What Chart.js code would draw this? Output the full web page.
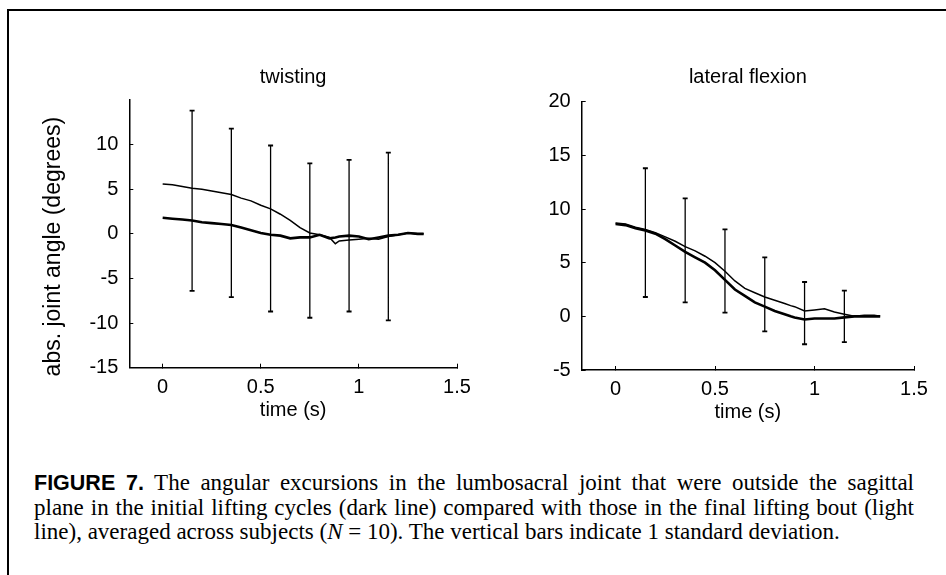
<!DOCTYPE html>
<html>
<head>
<meta charset="utf-8">
<script src="https://cdn.jsdelivr.net/npm/chart.js@4.4.1/dist/chart.umd.min.js"></script>
<style>
    body { margin: 0; background: #fff; }
    #page { position: relative; width: 946px; height: 575px; overflow: hidden; background: #fff; }
    #frame { position: absolute; left: 7px; top: 9px; right: -10px; bottom: -10px; border-top: 2px solid #000; border-left: 2px solid #000; }
    canvas { position: absolute; top: 0; }
    #leftChart { left: 0; }
    #rightChart { left: 470px; }
    #caption { position: absolute; left: 34px; top: 471px; width: 880px; font: 23px 'Liberation Serif', 'Times New Roman', serif; line-height: 24.5px; color: #000; }
    #caption .j { text-align: justify; text-align-last: justify; }
    #caption b { font-family: 'Liberation Sans', Arial, sans-serif; font-weight: bold; font-size: 21.5px; }
</style>
</head>
<body>
<div id="page">
    <div id="frame"></div>
    <canvas id="leftChart" width="490" height="440"></canvas>
    <canvas id="rightChart" width="476" height="440"></canvas>
    <div id="caption">
        <div class="j"><b>FIGURE 7.</b> The angular excursions in the lumbosacral joint that were outside the sagittal</div>
        <div class="j">plane in the initial lifting cycles (dark line) compared with those in the final lifting bout (light</div>
        <div>line), averaged across subjects (<i>N</i> = 10). The vertical bars indicate 1 standard deviation.</div>
    </div>
</div>
<script>
// sample times (s)
const time = [0, 0.05, 0.1, 0.15, 0.2, 0.25, 0.3, 0.35, 0.4, 0.45, 0.5, 0.55, 0.6, 0.65, 0.7,
    0.75, 0.8, 0.85, 0.88, 0.9, 0.95, 1.0, 1.05, 1.1, 1.15, 1.2, 1.25, 1.3, 1.33];

// twisting (degrees)
const twistLight = [5.6, 5.5, 5.3, 5.1, 5.0, 4.8, 4.6, 4.4, 4.0, 3.7, 3.2, 2.8, 2.2, 1.5, 0.7,
    0.1, -0.1, -0.4, -1.1, -0.8, -0.7, -0.6, -0.5, -0.6, -0.3, -0.1, 0.1, 0.0, 0.0];
const twistDark = [1.8, 1.7, 1.6, 1.5, 1.3, 1.2, 1.1, 1.0, 0.7, 0.4, 0.1, -0.1, -0.2, -0.5, -0.4,
    -0.4, -0.1, -0.5, -0.4, -0.3, -0.2, -0.3, -0.6, -0.4, -0.2, -0.1, 0.1, 0.0, 0.0];

// lateral flexion (degrees)
const flexLight = [8.7, 8.6, 8.3, 8.1, 7.8, 7.4, 7.0, 6.5, 6.1, 5.6, 5.0, 4.2, 3.3, 2.6, 2.2,
    1.8, 1.5, 1.2, 1.0, 0.9, 0.5, 0.6, 0.7, 0.4, 0.2, 0.0, 0.1, 0.1, 0.0];
const flexDark = [8.6, 8.5, 8.2, 8.0, 7.7, 7.2, 6.6, 6.0, 5.5, 5.0, 4.3, 3.4, 2.5, 1.9, 1.3,
    0.9, 0.5, 0.2, 0.0, -0.1, -0.3, -0.2, -0.2, -0.2, -0.1, 0.0, 0.0, 0.0, 0.0];

// standard deviation bars
const errTime = [0.15, 0.35, 0.55, 0.75, 0.95, 1.15];
const twistLow = [-6.4, -7.1, -8.7, -9.4, -8.7, -9.7];
const twistHigh = [13.8, 11.8, 9.9, 7.9, 8.3, 9.1];
const flexLow = [1.8, 1.3, 0.35, -1.4, -2.6, -2.4];
const flexHigh = [13.8, 11.0, 8.1, 5.5, 3.2, 2.4];

// tick labels
const xTicks = [0, 0.5, 1, 1.5];
const twistTicks = [-15, -10, -5, 0, 5, 10];
const flexTicks = [-5, 0, 5, 10, 15, 20];

Chart.defaults.font.family = "'Liberation Sans', Arial, Helvetica, sans-serif";
Chart.defaults.color = '#000';

function toPoints(xs, ys) {
    return xs.map((x, i) => ({ x: x, y: ys[i] }));
}

function errPoints(xs, lo, hi) {
    const pts = [];
    xs.forEach((x, i) => {
        pts.push({ x: x, y: lo[i] }, { x: x, y: hi[i] }, { x: x, y: null });
    });
    return pts;
}

function makeChart(id, cfg) {
    const ctx = document.getElementById(id).getContext('2d');
    return new Chart(ctx, {
        type: 'line',
        data: {
            datasets: [
                {
                    label: 'final (light)',
                    data: toPoints(time, cfg.light),
                    borderColor: '#000',
                    borderWidth: 1.5,
                    pointRadius: 0
                },
                {
                    label: 'initial (dark)',
                    data: toPoints(time, cfg.dark),
                    borderColor: '#000',
                    borderWidth: 2.6,
                    pointRadius: 0
                },
                {
                    label: 'SD',
                    data: errPoints(errTime, cfg.low, cfg.high),
                    borderColor: '#000',
                    borderWidth: 1.3,
                    spanGaps: false,
                    pointStyle: 'line',
                    pointRadius: 2.5,
                    pointBorderWidth: 1.8,
                    pointBorderColor: '#000'
                }
            ]
        },
        options: {
            responsive: false,
            animation: false,
            devicePixelRatio: 1,
            layout: { padding: { left: 0, right: cfg.padRight, top: 0, bottom: 0 } },
            plugins: {
                legend: { display: false },
                tooltip: { enabled: false },
                title: {
                    display: true,
                    text: cfg.title,
                    fullSize: false,
                    font: { size: 20, weight: 'normal' },
                    padding: { top: 65, bottom: cfg.titleGap }
                }
            },
            scales: {
                x: {
                    type: 'linear',
                    min: -0.17,
                    max: 1.5,
                    afterBuildTicks: (s) => { s.ticks = xTicks.map(v => ({ value: v })); },
                    afterFit: (s) => { s.height = cfg.xHeight; },
                    ticks: {
                        font: { size: 20 },
                        padding: cfg.xTickPad,
                        maxRotation: 0,
                        callback: (v) => String(v)
                    },
                    grid: { drawOnChartArea: false, drawTicks: true, tickLength: -4, color: '#000' },
                    border: { color: '#000', width: 1.5 },
                    title: {
                        display: true,
                        text: 'time (s)',
                        font: { size: 20 },
                        padding: { top: 0, bottom: cfg.xTitlePad }
                    }
                },
                y: {
                    type: 'linear',
                    min: cfg.yMin,
                    max: cfg.yMax,
                    afterBuildTicks: (s) => { s.ticks = cfg.yTicks.map(v => ({ value: v })); },
                    afterFit: (s) => { s.width = cfg.yWidth; },
                    ticks: { font: { size: 20 }, padding: 15 },
                    grid: { drawOnChartArea: false, drawTicks: true, tickLength: -4, color: '#000' },
                    border: { color: '#000', width: 1.5 },
                    title: {
                        display: cfg.yTitle !== '',
                        text: cfg.yTitle,
                        font: { size: 23 },
                        padding: { top: 40, bottom: 0 }
                    }
                }
            }
        }
    });
}

makeChart('leftChart', {
    title: 'twisting',
    light: twistLight, dark: twistDark, low: twistLow, high: twistHigh,
    yMin: -15, yMax: 15, yTicks: twistTicks,
    // trailing spaces nudge the rotated label down to where the original sits
    yTitle: 'abs. joint angle (degrees)\u00a0\u00a0\u00a0\u00a0',
    yWidth: 129.3, padRight: 33, titleGap: 11,
    xHeight: 72.3, xTickPad: 11.8, xTitlePad: 18
});

makeChart('rightChart', {
    title: 'lateral flexion',
    light: flexLight, dark: flexDark, low: flexLow, high: flexHigh,
    yMin: -5, yMax: 20, yTicks: flexTicks,
    yTitle: '',
    yWidth: 111.7, padRight: 32, titleGap: 12.7,
    xHeight: 70, xTickPad: 11, xTitlePad: 15.5
});
</script>
</body>
</html>
